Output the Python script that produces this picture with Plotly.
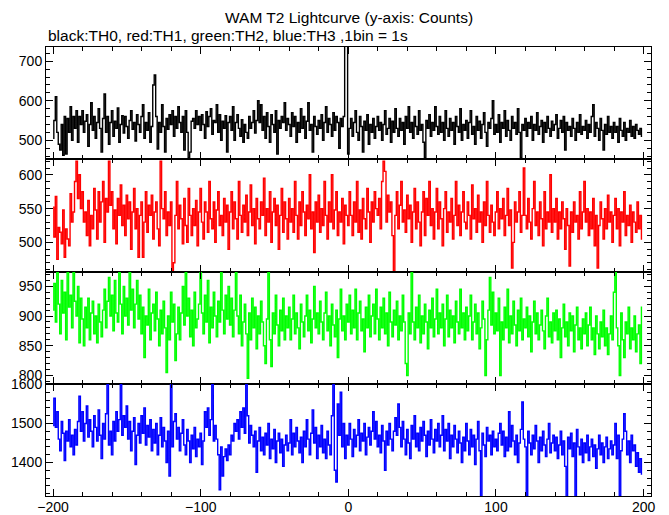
import plotly.graph_objects as go
from plotly.subplots import make_subplots

# time bins (seconds, 1 bin = 1 s)
time_s = list(range(-200, 200))

th0_counts = [
    505, 550, 610, 520, 490, 475, 540, 462, 560, 465, 555, 520, 585, 500, 560, 530, 575, 495, 560, 540,
    575, 520, 548, 565, 485, 540, 595, 525, 560, 505, 545, 580, 530, 470, 555, 617, 520, 560, 490, 545,
    575, 510, 548, 530, 582, 495, 540, 562, 518, 560, 535, 505, 550, 575, 528, 545, 498, 565, 540, 520,
    560, 590, 505, 545, 525, 570, 495, 535, 640, 665, 560, 478, 545, 520, 590, 535, 470, 555, 528, 565,
    540, 575, 510, 560, 530, 585, 545, 520, 560, 475, 575, 520, 455, 470, 548, 555, 530, 575, 540, 560,
    525, 565, 540, 505, 572, 535, 560, 580, 515, 550, 545, 590, 520, 565, 500, 548, 530, 562, 470, 545,
    560, 525, 585, 500, 545, 565, 530, 510, 552, 495, 540, 520, 505, 560, 530, 545, 575, 518, 550, 600,
    545, 590, 525, 560, 505, 570, 535, 495, 565, 540, 520, 575, 465, 550, 530, 560, 545, 595, 525, 555,
    540, 510, 570, 535, 560, 495, 545, 520, 580, 530, 560, 505, 548, 595, 525, 540, 470, 560, 535, 515,
    550, 530, 565, 500, 545, 585, 520, 555, 540, 510, 570, 525, 560, 545, 480, 555, 535, 560, 770, 810,
    465, 530, 555, 510, 545, 575, 520, 500, 560, 535, 470, 548, 525, 565, 490, 540, 520, 555, 505, 535,
    560, 525, 545, 500, 540, 575, 515, 530, 555, 495, 548, 520, 580, 530, 510, 555, 525, 545, 490, 560,
    530, 585, 520, 545, 505, 560, 535, 515, 575, 525, 540, 495, 455, 550, 530, 565, 510, 545, 525, 585,
    535, 515, 560, 520, 545, 500, 575, 530, 510, 555, 525, 545, 490, 560, 535, 520, 580, 500, 540, 525,
    550, 505, 545, 575, 515, 535, 490, 560, 525, 548, 505, 540, 570, 520, 485, 545, 530, 555, 600, 515,
    540, 520, 565, 495, 545, 530, 575, 510, 550, 525, 500, 560, 530, 545, 515, 580, 520, 455, 540, 525,
    555, 510, 545, 530, 560, 500, 540, 525, 570, 515, 535, 550, 495, 545, 520, 560, 530, 510, 548, 525,
    540, 565, 505, 530, 550, 520, 560, 475, 545, 525, 535, 510, 555, 530, 500, 545, 520, 565, 515, 535,
    525, 550, 505, 540, 520, 560, 590, 510, 545, 530, 500, 555, 525, 475, 540, 515, 560, 520, 535, 505,
    545, 520, 535, 495, 555, 525, 510, 545, 500, 530, 520, 550, 510, 535, 505, 540, 525, 515, 530, 510,
]

th1_counts = [
    552, 508, 568, 475, 522, 515, 498, 548, 478, 520, 505, 495, 572, 530, 545, 590, 620, 565, 600, 550,
    575, 530, 545, 510, 562, 495, 540, 520, 580, 548, 505, 575, 530, 560, 590, 500, 565, 545, 620, 555,
    575, 520, 548, 498, 565, 540, 585, 525, 555, 510, 570, 535, 560, 490, 545, 580, 520, 550, 478, 540,
    560, 478, 530, 575, 515, 555, 540, 570, 505, 545, 560, 520, 495, 620, 550, 535, 575, 510, 545, 525,
    560, 457, 470, 540, 590, 520, 555, 535, 498, 565, 525, 500, 580, 540, 510, 550, 525, 562, 495, 545,
    580, 530, 505, 560, 545, 515, 590, 535, 520, 560, 500, 548, 575, 525, 540, 510, 565, 530, 555, 490,
    545, 575, 520, 560, 535, 505, 590, 540, 515, 555, 530, 570, 510, 545, 585, 525, 550, 498, 565, 535,
    520, 560, 540, 595, 510, 550, 530, 575, 500, 545, 565, 525, 555, 490, 540, 580, 515, 560, 535, 505,
    565, 530, 550, 515, 590, 540, 505, 560, 525, 575, 545, 510, 555, 535, 600, 520, 545, 485, 560, 530,
    570, 515, 550, 525, 590, 540, 505, 560, 530, 600, 520, 548, 575, 510, 545, 530, 565, 498, 555, 540,
    525, 575, 540, 510, 560, 530, 590, 515, 548, 505, 565, 535, 520, 580, 545, 500, 560, 530, 575, 550,
    540, 565, 520, 590, 620, 605, 530, 570, 545, 560, 510, 457, 540, 575, 520, 555, 590, 530, 548, 515,
    570, 535, 555, 500, 545, 580, 520, 560, 530, 495, 545, 575, 510, 565, 540, 590, 525, 550, 505, 545,
    580, 520, 560, 535, 495, 550, 575, 515, 545, 530, 565, 505, 540, 590, 525, 555, 510, 545, 575, 530,
    520, 560, 540, 505, 585, 535, 550, 515, 570, 530, 545, 500, 560, 525, 590, 540, 515, 555, 530, 510,
    545, 575, 520, 550, 535, 565, 510, 540, 580, 525, 548, 462, 500, 560, 530, 545, 575, 515, 540, 610,
    540, 520, 565, 530, 505, 550, 590, 525, 545, 510, 560, 535, 495, 575, 520, 545, 530, 600, 515, 550,
    530, 565, 505, 545, 520, 560, 535, 490, 550, 525, 465, 545, 515, 560, 530, 540, 505, 575, 520, 545,
    590, 530, 550, 510, 545, 520, 565, 495, 540, 462, 525, 560, 535, 505, 550, 520, 570, 530, 545, 500,
    540, 565, 520, 550, 495, 545, 530, 575, 510, 540, 525, 555, 500, 545, 530, 515, 560, 520, 540, 505,
]

th2_counts = [
    910, 955, 890, 975, 920, 870, 960, 905, 940, 860, 975, 915, 935, 880, 975, 925, 900, 950, 855, 930,
    895, 850, 915, 880, 930, 860, 905, 925, 870, 900, 855, 920, 890, 865, 910, 945, 880, 925, 965, 900,
    935, 875, 960, 905, 890, 975, 920, 870, 950, 900, 930, 885, 975, 910, 945, 880, 920, 960, 895, 935,
    870, 915, 830, 900, 885, 945, 860, 905, 920, 875, 940, 895, 850, 910, 870, 925, 880, 805, 900, 860,
    940, 890, 920, 825, 870, 915, 860, 905, 950, 885, 975, 900, 930, 865, 910, 850, 940, 880, 895, 920,
    975, 905, 870, 935, 890, 960, 855, 915, 880, 940, 900, 865, 925, 890, 975, 910, 870, 935, 895, 950,
    885, 930, 865, 910, 975, 900, 870, 935, 850, 890, 920, 870, 795, 905, 860, 930, 880, 915, 845, 900,
    870, 925, 890, 850, 820, 895, 975, 860, 815, 905, 870, 935, 885, 850, 910, 875, 930, 860, 900, 880,
    915, 860, 895, 935, 870, 905, 880, 845, 920, 890, 865, 900, 935, 875, 910, 855, 895, 950, 880, 905,
    870, 925, 890, 860, 905, 940, 875, 900, 850, 920, 885, 865, 910, 830, 895, 945, 875, 900, 860, 920,
    890, 935, 870, 910, 880, 945, 860, 905, 925, 875, 895, 840, 915, 880, 935, 865, 900, 920, 870, 945,
    895, 860, 915, 880, 930, 870, 905, 850, 940, 890, 865, 910, 885, 925, 860, 900, 875, 935, 890, 820,
    800, 905, 870, 975, 890, 860, 915, 880, 935, 855, 900, 870, 920, 890, 845, 910, 880, 930, 865, 895,
    945, 870, 905, 880, 920, 850, 895, 935, 865, 910, 880, 900, 855, 925, 890, 870, 945, 880, 905, 860,
    915, 875, 900, 935, 860, 890, 920, 870, 905, 845, 880, 925, 895, 800, 860, 910, 965, 885, 940, 870,
    905, 875, 930, 800, 890, 860, 915, 880, 945, 855, 900, 870, 925, 885, 850, 910, 875, 930, 860, 895,
    880, 915, 865, 900, 840, 890, 925, 870, 905, 860, 885, 910, 875, 845, 900, 930, 865, 890, 855, 905,
    875, 910, 860, 895, 830, 880, 920, 865, 890, 850, 905, 875, 900, 840, 885, 915, 860, 880, 845, 895,
    870, 905, 850, 885, 915, 860, 880, 835, 900, 870, 845, 890, 865, 910, 850, 880, 835, 870, 900, 860,
    940, 975, 880, 850, 800, 905, 860, 830, 890, 870, 915, 845, 880, 860, 900, 840, 870, 885, 820, 915,
]

th3_counts = [
    1495, 1565, 1490, 1530, 1460, 1430, 1505, 1475, 1405, 1480, 1455, 1510, 1440, 1470, 1420, 1485, 1445, 1505, 1570, 1480,
    1530, 1455, 1500, 1545, 1465, 1510, 1480, 1440, 1520, 1490, 1455, 1535, 1470, 1410, 1500, 1460, 1525, 1600, 1445, 1480,
    1420, 1505, 1455, 1530, 1480, 1510, 1600, 1470, 1520, 1490, 1545, 1460, 1505, 1430, 1480, 1515, 1395, 1470, 1500, 1450,
    1520, 1475, 1540, 1445, 1495, 1465, 1510, 1430, 1485, 1450, 1500, 1420, 1470, 1515, 1440, 1490, 1455, 1400, 1480, 1365,
    1600, 1440, 1505, 1525, 1460, 1490, 1430, 1475, 1510, 1445, 1420, 1485, 1455, 1400, 1470, 1435, 1490, 1415, 1460, 1440,
    1475, 1395, 1455, 1530, 1490, 1540, 1470, 1510, 1600, 1455, 1495, 1460, 1420, 1330, 1440, 1365, 1415, 1435, 1405, 1445,
    1420, 1470, 1455, 1500, 1480, 1510, 1460, 1530, 1490, 1540, 1475, 1600, 1520, 1450, 1495, 1470, 1440, 1480, 1375, 1455,
    1490, 1430, 1465, 1420, 1475, 1445, 1500, 1410, 1460, 1435, 1485, 1400, 1455, 1475, 1425, 1460, 1390, 1445, 1470, 1430,
    1450, 1510, 1420, 1475, 1440, 1490, 1455, 1425, 1465, 1400, 1480, 1440, 1510, 1460, 1420, 1475, 1535, 1450, 1490, 1410,
    1470, 1440, 1495, 1425, 1460, 1410, 1480, 1445, 1420, 1520, 1600, 1380, 1350, 1550, 1470, 1580, 1440, 1500, 1410, 1470,
    1445, 1500, 1460, 1415, 1485, 1440, 1470, 1510, 1430, 1475, 1455, 1500, 1420, 1465, 1490, 1445, 1480, 1530, 1460, 1505,
    1440, 1470, 1425, 1495, 1455, 1380, 1480, 1445, 1500, 1460, 1430, 1480, 1515, 1470, 1550, 1490, 1440, 1505, 1460, 1420,
    1485, 1450, 1410, 1495, 1460, 1520, 1440, 1475, 1430, 1490, 1455, 1505, 1470, 1415, 1480, 1445, 1510, 1460, 1425, 1485,
    1455, 1500, 1440, 1470, 1520, 1430, 1485, 1455, 1500, 1410, 1470, 1440, 1495, 1460, 1425, 1480, 1450, 1400, 1465, 1430,
    1500, 1455, 1420, 1485, 1440, 1470, 1395, 1460, 1505, 1430, 1310, 1475, 1445, 1415, 1490, 1455, 1470, 1420, 1480, 1440,
    1460, 1430, 1475, 1500, 1445, 1480, 1415, 1465, 1430, 1530, 1440, 1495, 1455, 1420, 1470, 1400, 1450, 1485, 1555, 1460,
    1440, 1310, 1480, 1450, 1420, 1470, 1435, 1495, 1455, 1400, 1465, 1430, 1480, 1445, 1415, 1460, 1500, 1425, 1450, 1470,
    1430, 1465, 1410, 1445, 1480, 1420, 1455, 1390, 1310, 1465, 1435, 1475, 1415, 1450, 1310, 1485, 1440, 1420, 1460, 1400,
    1450, 1425, 1470, 1405, 1440, 1460, 1415, 1445, 1385, 1435, 1470, 1420, 1450, 1400, 1440, 1465, 1410, 1435, 1455, 1420,
    1445, 1500, 1410, 1470, 1315, 1430, 1460, 1525, 1480, 1420, 1455, 1400, 1470, 1430, 1445, 1390, 1425, 1375, 1410, 1370,
]

series = [
    ("TH0", th0_counts, "#000000"),
    ("TH1", th1_counts, "#ff0000"),
    ("TH2", th2_counts, "#00ff00"),
    ("TH3", th3_counts, "#0000ff"),
]
y_ranges = [[452, 736], [457, 623], [786, 975], [1314, 1602]]
y_dticks = [100, 50, 50, 100]
y_minor = [20, 10, 10, 20]

fig = make_subplots(rows=4, cols=1, shared_xaxes=True, vertical_spacing=0)

FONT = "Liberation Sans, Arial, sans-serif"

for i, (name, vals, col) in enumerate(series):
    fig.add_trace(
        go.Scatter(x=time_s, y=vals, mode="lines", name=name,
                   line=dict(color=col, width=1.4, shape="hvh"),
                   showlegend=False),
        row=i + 1, col=1,
    )
    fig.update_yaxes(
        range=y_ranges[i], dtick=y_dticks[i], tick0=0, automargin=False,
        ticks="inside", ticklen=7, tickwidth=1, tickcolor="black",
        minor=dict(dtick=y_minor[i], ticks="inside", ticklen=4, tickcolor="black"),
        showline=True, linecolor="black", linewidth=1, mirror="allticks",
        showgrid=False, zeroline=False,
        tickfont=dict(family=FONT, size=14, color="black"),
        row=i + 1, col=1,
    )
    fig.update_xaxes(
        range=[-204.8, 205], dtick=100, tick0=0, automargin=False,
        ticks="inside", ticklen=7, tickwidth=1, tickcolor="black",
        minor=dict(dtick=20, ticks="inside", ticklen=4, tickcolor="black"),
        showline=True, linecolor="black", linewidth=1, mirror="allticks",
        showgrid=False, zeroline=False,
        tickfont=dict(family=FONT, size=14, color="black"),
        row=i + 1, col=1,
    )
fig.update_xaxes(ticklabelstandoff=-2, row=4, col=1)

fig.update_layout(
    width=669, height=515,
    margin=dict(l=46, r=18, t=47, b=19),
    paper_bgcolor="white", plot_bgcolor="white",
    font=dict(family=FONT, size=14, color="black"),
    annotations=[
        dict(text="WAM T2 Lightcurve (y-axis: Counts)", xref="paper", yref="paper",
             x=0.5, y=1 + 30 / 449, xanchor="center", yanchor="middle",
             showarrow=False, font=dict(family=FONT, size=15.5, color="black")),
        dict(text="black:TH0, red:TH1, green:TH2, blue:TH3 ,1bin = 1s", xref="paper", yref="paper",
             x=0, y=1 + 12 / 449, xanchor="left", yanchor="middle",
             showarrow=False, font=dict(family=FONT, size=15.5, color="black")),
    ],
)

fig.write_html(
    "out.html",
    config={"displayModeBar": False},
    post_script="document.body.style.margin='0';document.body.style.padding='0';"
                "document.body.style.overflow='hidden';",
)
